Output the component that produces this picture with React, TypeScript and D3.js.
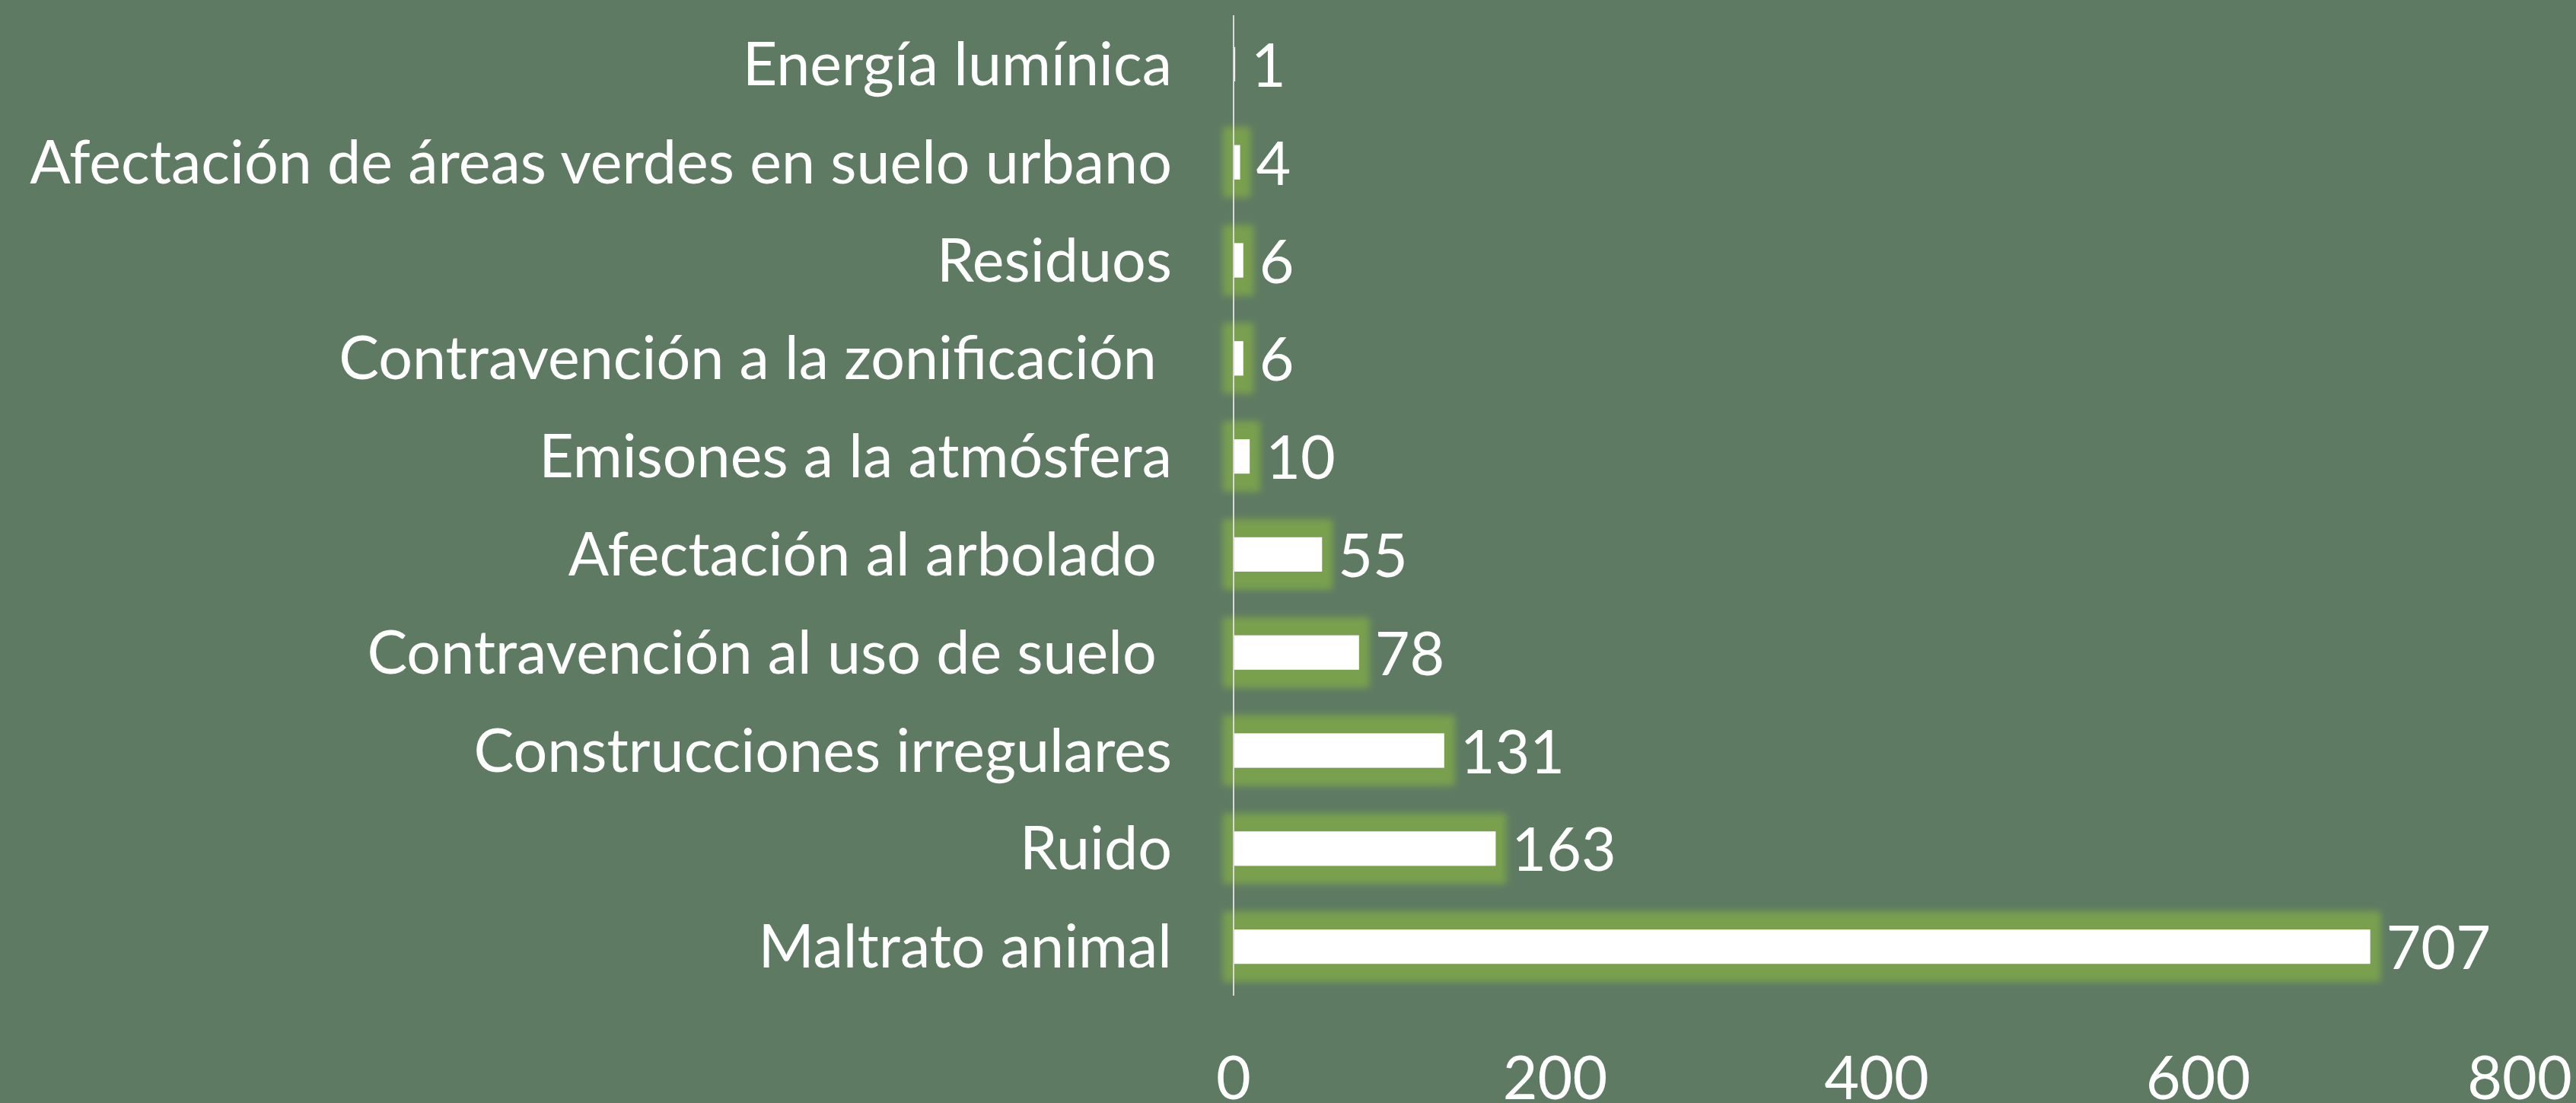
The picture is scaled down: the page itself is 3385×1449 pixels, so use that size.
import React from "react";
import * as d3 from "d3";

const categories = [
  "Energía lumínica",
  "Afectación de áreas verdes en suelo urbano",
  "Residuos",
  "Contravención a la zonificación ",
  "Emisones a la atmósfera",
  "Afectación al arbolado ",
  "Contravención al uso de suelo ",
  "Construcciones irregulares",
  "Ruido",
  "Maltrato animal",
];
const values = [1, 4, 6, 6, 10, 55, 78, 131, 163, 707];
const ticks = [0, 200, 400, 600, 800];

const W = 3385;
const H = 1449;
const BG = "#5E7A63";
const GLOW = "#79A04E";
const FONT = "Lato, 'Open Sans', sans-serif";
const FS = 79;

export default function App() {
  const x = d3.scaleLinear().domain([0, 800]).range([1621, 3311]);
  const y = d3
    .scaleBand<string>()
    .domain(categories)
    .range([20, 1308])
    .paddingInner(0.65)
    .paddingOuter(0.325);

  return (
    <svg
      width={W}
      height={H}
      style={{ position: "absolute", left: 0, top: 0, display: "block" }}
    >
      <defs>
        <filter id="glow" filterUnits="userSpaceOnUse" x={0} y={0} width={W} height={H}>
          <feMorphology in="SourceAlpha" operator="dilate" radius="14 24" result="d" />
          <feGaussianBlur in="d" stdDeviation="5" result="b" />
          <feFlood floodColor={GLOW} result="f" />
          <feComposite in="f" in2="b" operator="in" result="g" />
          <feMerge>
            <feMergeNode in="g" />
            <feMergeNode in="SourceGraphic" />
          </feMerge>
        </filter>
      </defs>
      <rect x={0} y={0} width={W} height={H} fill={BG} />
      {categories.map((c, i) => {
        const yy = y(c)!;
        const bw = y.bandwidth();
        const cy = yy + bw / 2;
        return (
          <g key={c}>
            <rect
              x={x(0)}
              y={yy}
              width={x(values[i]) - x(0)}
              height={bw}
              fill="#FFFFFF"
              filter={values[i] > 1 ? "url(#glow)" : undefined}
            />
            <text
              x={1540}
              y={cy}
              dy="0.35em"
              textAnchor="end"
              fill="#FFFFFF"
              fontFamily={FONT}
              fontSize={FS}
              style={{ whiteSpace: "pre" }}
            >
              {c}
            </text>
            <text
              x={x(values[i]) + 21}
              y={cy + 2}
              dy="0.35em"
              textAnchor="start"
              fill="#FFFFFF"
              fontFamily={FONT}
              fontSize={FS}
            >
              {values[i]}
            </text>
          </g>
        );
      })}
      <line x1={x(0)} x2={x(0)} y1={20} y2={1308} stroke="#D9D9D9" strokeWidth={2} />
      {ticks.map((t) => (
        <text
          key={t}
          x={x(t)}
          y={1444}
          textAnchor="middle"
          fill="#FFFFFF"
          fontFamily={FONT}
          fontSize={FS}
        >
          {t}
        </text>
      ))}
    </svg>
  );
}
